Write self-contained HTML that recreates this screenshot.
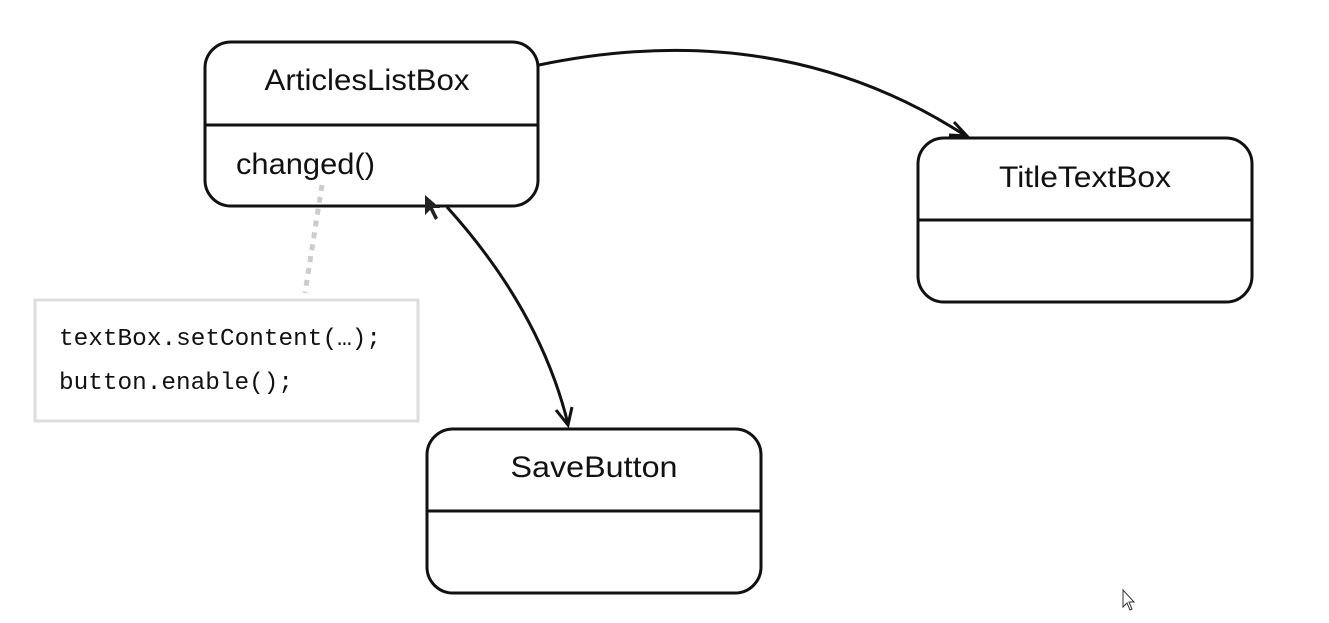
<!DOCTYPE html>
<html><head><style>body{margin:0;background:#fff}svg{display:block}</style></head><body>
<svg width="1329" height="623" viewBox="0 0 1329 623" xmlns="http://www.w3.org/2000/svg">
<g fill="none" stroke="#111" stroke-width="3">
<rect x="205" y="42" width="333" height="164" rx="26"/>
<line x1="205" y1="125" x2="538" y2="125"/>
<rect x="918" y="138" width="334" height="164" rx="26"/>
<line x1="918" y1="220" x2="1252" y2="220"/>
<rect x="427" y="429" width="334" height="164" rx="26"/>
<line x1="427" y1="511" x2="761" y2="511"/>
<path d="M539 65 Q780 15 966 136"/>
<path d="M954 122 L967 136 L949 135" stroke-linejoin="miter"/>
<path d="M447 207 Q540 310 568 424"/>
<path d="M556 410 L568 425 L572 407"/>
</g>
<line x1="322" y1="185" x2="305" y2="293" stroke="#ccc" stroke-width="5" stroke-dasharray="6 6"/>
<rect x="35" y="300" width="383" height="121" fill="#fff" stroke="#ddd" stroke-width="3"/>
<path d="M425 195 L425 215 L430 210 L435 220 L438 218 L433 208 L440 208 Z" fill="#222"/>
<path d="M1123 590 L1123 607 L1127 603 L1130 610 L1132 609 L1129 602 L1134 602 Z" fill="#fff" stroke="#333" stroke-width="1"/>
<g font-family="Liberation Sans, sans-serif" font-size="30" fill="#111" text-anchor="middle">
<text x="367" y="90" textLength="205" lengthAdjust="spacingAndGlyphs">ArticlesListBox</text>
<text x="1085" y="187" textLength="172" lengthAdjust="spacingAndGlyphs">TitleTextBox</text>
<text x="594" y="477" textLength="167" lengthAdjust="spacingAndGlyphs">SaveButton</text>
<text x="236" y="174" text-anchor="start" textLength="139" lengthAdjust="spacingAndGlyphs">changed()</text>
</g>
<g font-family="Liberation Mono, monospace" font-size="24" fill="#111">
<text x="59" y="345" textLength="322" lengthAdjust="spacingAndGlyphs">textBox.setContent(…);</text>
<text x="59" y="389" textLength="234" lengthAdjust="spacingAndGlyphs">button.enable();</text>
</g>
</svg>
</body></html>
